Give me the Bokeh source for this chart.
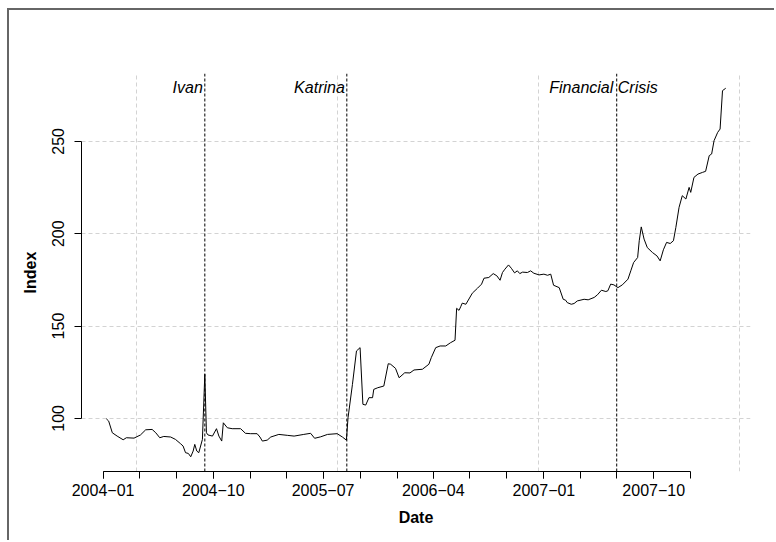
import pandas as pd
from bokeh.plotting import figure
from bokeh.models import Range1d, FixedTicker, DatetimeTickFormatter, Span, Label
from bokeh.embed import file_html
from bokeh.resources import INLINE

# ---------------- data ----------------
start_date = "2004-01-01"
day_offsets = [
    8, 14, 23, 35, 50, 58, 77, 93, 106, 122, 131, 141, 151, 168, 180, 193, 199, 205, 212, 218,
    224, 228, 233, 238, 247, 253, 257, 261, 272, 282, 288, 295, 299, 309, 321, 342, 354, 367, 383, 390,
    396, 408, 417, 437, 458, 475, 499, 516, 526, 541, 558, 582, 595, 605, 609, 620, 630, 639, 646, 653,
    661, 670, 673, 683, 698, 709, 715, 727, 736, 750, 763, 773, 794, 810, 816, 827, 838, 852, 864, 875,
    879, 885, 889, 893, 902, 918, 931, 941, 947, 959, 970, 979, 987, 993, 999, 1008, 1015, 1023, 1030, 1036,
    1043, 1055, 1063, 1071, 1084, 1096, 1105, 1113, 1120, 1134, 1144, 1150, 1154, 1164, 1171, 1179, 1196, 1206, 1221, 1229,
    1239, 1250, 1255, 1262, 1270, 1280, 1291, 1305, 1312, 1319, 1329, 1333, 1338, 1345, 1353, 1366, 1377, 1385, 1393, 1401,
    1410, 1418, 1424, 1432, 1440, 1449, 1457, 1461, 1469, 1479, 1490, 1498, 1507, 1513, 1519, 1528, 1534, 1540, 1548,
]
index_values = [
    99.8, 98.5, 92.2, 90.4, 88.4, 89.5, 89.3, 91.0, 93.8, 94.0, 92.2, 89.5, 90.2, 89.9, 88.6, 86.2, 85.0, 81.4, 81.0, 79.2,
    82.3, 85.9, 82.3, 81.4, 88.6, 123.9, 92.2, 91.0, 90.4, 94.4, 90.4, 87.7, 97.6, 94.9, 94.4, 94.4, 91.9, 91.7, 91.7, 89.9,
    87.7, 88.2, 89.9, 91.3, 90.8, 90.4, 91.3, 91.9, 89.2, 90.0, 91.3, 91.7, 89.9, 88.2, 100.3, 118.4, 136.5, 138.3, 107.6, 107.2,
    111.2, 111.2, 115.7, 116.6, 117.5, 129.6, 129.3, 127.1, 122.0, 124.7, 124.6, 126.2, 126.6, 129.3, 132.9, 138.3, 139.2, 139.2, 141.0, 142.3,
    159.6, 158.5, 160.4, 162.4, 161.8, 167.8, 170.5, 172.7, 175.9, 176.3, 178.4, 177.2, 174.8, 179.0, 180.8, 183.1, 181.3, 178.8, 179.9, 178.4,
    179.2, 179.0, 179.9, 178.6, 177.7, 178.1, 177.5, 178.1, 172.1, 170.8, 164.5, 164.0, 162.7, 161.8, 162.2, 163.6, 164.5, 164.2, 165.5, 166.9,
    169.4, 168.7, 169.1, 172.7, 172.3, 170.8, 172.3, 175.4, 179.9, 184.4, 187.1, 196.2, 203.7, 197.1, 192.5, 189.8, 188.0, 185.3, 191.3, 195.3,
    194.7, 196.2, 203.4, 214.3, 220.6, 218.8, 225.1, 222.4, 230.5, 232.3, 233.2, 233.8, 242.3, 243.2, 250.4, 254.9, 256.7, 277.5, 278.8,
]

event_names = ["Ivan", "Katrina", "Financial Crisis"]
event_dates = ["2004-09-10", "2005-08-29", "2007-07-01"]
label_dates = ["2004-09-10", "2005-08-29", "2007-10-16"]
label_level = 279

x_label_dates = ["2004-01-01", "2004-10-01", "2005-07-01", "2006-04-01", "2007-01-01", "2007-10-01"]
x_tick_dates = ["2004-01-01", "2004-04-01", "2004-07-01", "2004-10-01",
                "2005-01-01", "2005-04-01", "2005-07-01", "2005-10-01",
                "2006-01-01", "2006-04-01", "2006-07-01", "2006-10-01",
                "2007-01-01", "2007-04-01", "2007-07-01", "2007-10-01", "2008-01-01"]
y_ticks = [100, 150, 200, 250]
grid_epoch_days = [12500, 13000, 13500, 14000]


def ms(d):
    return int(pd.Timestamp(d).value // 10**6)


DAY = 86400000
dates = pd.to_datetime(start_date) + pd.to_timedelta(day_offsets, unit="D")

xmin, xmax = min(day_offsets), max(day_offsets)
xpad = 0.04 * (xmax - xmin)
ymin, ymax = min(index_values), max(index_values)
ypad = 0.04 * (ymax - ymin)
x0 = ms(start_date)

FONT = "Liberation Sans"

p = figure(width=767, height=532, x_axis_type="datetime", output_backend="svg",
           toolbar_location=None,
           x_range=Range1d(x0 + (xmin - xpad) * DAY, x0 + (xmax + xpad) * DAY),
           y_range=Range1d(ymin - ypad, ymax + ypad),
           min_border_left=72, min_border_right=26, min_border_top=63, min_border_bottom=71)
p.outline_line_color = None
p.background_fill_color = "white"
p.border_fill_color = "white"

# grid
p.xgrid.ticker = FixedTicker(ticks=[d * DAY for d in grid_epoch_days])
p.ygrid.ticker = FixedTicker(ticks=y_ticks)
for g in (p.xgrid, p.ygrid):
    g.grid_line_color = "#d3d3d3"
    g.grid_line_dash = "4 3"
    g.grid_line_width = 1

# series
p.line(dates, index_values, line_color="black", line_width=1)

# events
for name, d, ld in zip(event_names, event_dates, label_dates):
    p.add_layout(Span(location=ms(d), dimension="height", line_color="black",
                      line_dash="3 2", line_width=1))
    p.add_layout(Label(x=ms(ld), y=label_level, text=name, text_align="right",
                       text_baseline="middle", x_offset=-2, text_font=FONT,
                       text_font_size="16px", text_font_style="italic",
                       text_color="black"))

# axes
fmt = "%Y\u2212%m"
p.xaxis.ticker = FixedTicker(ticks=[ms(d) for d in x_label_dates],
                             minor_ticks=[ms(d) for d in x_tick_dates])
p.xaxis.formatter = DatetimeTickFormatter(
    microseconds=fmt, milliseconds=fmt, seconds=fmt, minsec=fmt, minutes=fmt,
    hourmin=fmt, hours=fmt, days=fmt, months=fmt, years=fmt)
p.xaxis.bounds = (ms(x_tick_dates[0]), ms(x_tick_dates[-1]))
p.xaxis.minor_tick_in = 0
p.xaxis.minor_tick_out = 7
p.xaxis.minor_tick_line_color = "black"
p.xaxis.axis_label = "Date"
p.xaxis.major_label_standoff = 5
p.xaxis.axis_label_standoff = 10

p.yaxis.ticker = FixedTicker(ticks=y_ticks)
p.yaxis.bounds = (y_ticks[0], y_ticks[-1])
p.yaxis.minor_tick_line_color = None
p.yaxis.major_label_orientation = "vertical"
p.yaxis.axis_label = "Index"
p.yaxis.major_label_standoff = 10
p.yaxis.axis_label_standoff = 11

for ax in (p.xaxis, p.yaxis):
    ax.axis_line_color = "black"
    ax.major_tick_line_color = "black"
    ax.major_tick_in = 0
    ax.major_tick_out = 7
    ax.major_label_text_font = FONT
    ax.major_label_text_font_size = "16px"
    ax.major_label_text_color = "black"
    ax.axis_label_text_font = FONT
    ax.axis_label_text_font_size = "16px"
    ax.axis_label_text_font_style = "bold"
    ax.axis_label_text_color = "black"

p.styles = {"margin-left": "7px", "margin-top": "8px",
            "border-top": "2px solid #666666", "border-left": "2px solid #666666"}

open("out.html", "w").write(file_html(p, INLINE))
